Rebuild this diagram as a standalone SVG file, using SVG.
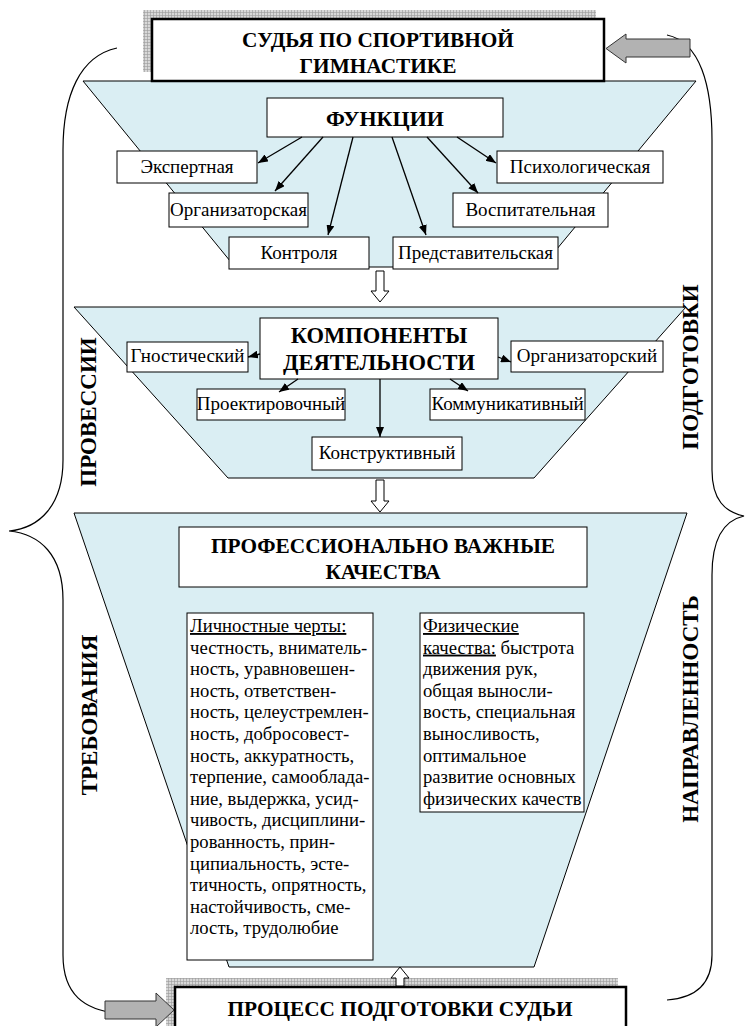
<svg xmlns="http://www.w3.org/2000/svg" width="748" height="1026" viewBox="0 0 748 1026">
<defs>
<pattern id="grid" width="3" height="3" patternUnits="userSpaceOnUse">
<rect width="3" height="3" fill="#d8d8d8"/>
<path d="M0,0.5H3M0.5,0V3" stroke="#9a9a9a" stroke-width="0.6"/>
</pattern>
<marker id="ah" markerWidth="10" markerHeight="8" refX="10" refY="4" orient="auto" markerUnits="userSpaceOnUse">
<path d="M0,0L10,4L0,8z" fill="#000"/>
</marker>
</defs>
<style>
text{font-family:"Liberation Serif","Times New Roman",serif;fill:#000}
.t{font-size:21.3px;font-weight:bold;text-anchor:middle}
.v{font-size:23px;font-weight:bold;text-anchor:middle}
.l{font-size:19px;text-anchor:middle}
.p{font-size:18.67px}
.box{fill:#fff;stroke:#000;stroke-width:1}
.bigbox{fill:#fff;stroke:#000;stroke-width:2.5}
.trap{fill:#daeef3;stroke:#000;stroke-width:1}
.con{stroke:#000;stroke-width:1.3;fill:none;marker-end:url(#ah)}
.hol{fill:#fff;stroke:#000;stroke-width:1}
.gray{fill:#b2b2b2;stroke:#333;stroke-width:1}
.brace{fill:none;stroke:#000;stroke-width:1.2}
</style>
<rect width="748" height="1026" fill="#fff"/>

<g id="braces">
<path class="brace" d="M117,48 C80,56 63,95 63,150 L63,460 C63,505 40,528 9,531 C40,534 63,555 63,600 L63,955 C63,995 85,1010 117,1013"/>
<path class="brace" d="M667,35 C700,42 712,85 712,140 L712,470 C712,500 725,512 744,516 C726,520 712,535 712,575 L712,955 C712,985 695,998 667,1000"/>
</g>

<g id="zone1">
<polygon class="trap" points="83,81 696,81 542,267 235,267"/>
</g>
<g id="zone2">
<polygon class="trap" points="74,307 686,307 534,478 228,478"/>
</g>
<g id="zone3">
<polygon class="trap" points="74,513 687,513 534,967 229,967"/>
</g>

<g id="judge">
<rect x="143" y="10" width="453" height="62" fill="url(#grid)"/>
<rect class="bigbox" x="152" y="19" width="452" height="62"/>
<text class="t" x="378" y="47">СУДЬЯ ПО СПОРТИВНОЙ</text>
<text class="t" x="378" y="73">ГИМНАСТИКЕ</text>
</g>

<g id="functions">
<rect class="box" x="267" y="98" width="236" height="39"/>
<text class="t" x="385" y="126" style="font-size:22px">ФУНКЦИИ</text>
</g>
<g id="f-expert"><rect class="box" x="117" y="151" width="140" height="32"/><text class="l" x="187" y="173">Экспертная</text></g>
<g id="f-psych"><rect class="box" x="497" y="151" width="166" height="32"/><text class="l" x="580" y="173">Психологическая</text></g>
<g id="f-org"><rect class="box" x="169" y="193" width="139" height="34"/><text class="l" x="238.5" y="216">Организаторская</text></g>
<g id="f-educ"><rect class="box" x="453" y="193" width="155" height="34"/><text class="l" x="530.5" y="216">Воспитательная</text></g>
<g id="f-control"><rect class="box" x="229" y="237" width="140" height="32"/><text class="l" x="299" y="259">Контроля</text></g>
<g id="f-repr"><rect class="box" x="393" y="237" width="165" height="32"/><text class="l" x="475.5" y="259">Представительская</text></g>

<g id="components">
<rect class="box" x="260" y="318" width="238" height="61"/>
<text class="t" x="379" y="343" style="font-size:22.5px">КОМПОНЕНТЫ</text>
<text class="t" x="379" y="370" style="font-size:22.5px">ДЕЯТЕЛЬНОСТИ</text>
</g>
<g id="c-gnost"><rect class="box" x="127" y="342" width="121" height="30"/><text class="l" x="187.5" y="362">Гностический</text></g>
<g id="c-org"><rect class="box" x="511" y="341" width="152" height="31"/><text class="l" x="587" y="362">Организаторский</text></g>
<g id="c-proj"><rect class="box" x="197" y="389" width="148" height="31"/><text class="l" x="271" y="410">Проектировочный</text></g>
<g id="c-comm"><rect class="box" x="430" y="389" width="155" height="31"/><text class="l" x="507.5" y="410">Коммуникативный</text></g>
<g id="c-constr"><rect class="box" x="312" y="437" width="150" height="33"/><text class="l" x="387" y="459">Конструктивный</text></g>

<g id="qualities">
<rect class="box" x="179" y="527" width="408" height="60"/>
<text class="t" x="383" y="553">ПРОФЕССИОНАЛЬНО ВАЖНЫЕ</text>
<text class="t" x="383" y="579">КАЧЕСТВА</text>
</g>

<g id="personal">
<rect class="box" x="187" y="613" width="186" height="347"/>
<text class="p" x="190">
<tspan x="190" y="632" text-decoration="underline">Личностные черты:</tspan>
<tspan x="190" y="653.6">честность, вниматель-</tspan>
<tspan x="190" y="675.2">ность, уравновешен-</tspan>
<tspan x="190" y="696.8">ность, ответствен-</tspan>
<tspan x="190" y="718.4">ность, целеустремлен-</tspan>
<tspan x="190" y="740">ность, добросовест-</tspan>
<tspan x="190" y="761.6">ность, аккуратность,</tspan>
<tspan x="190" y="783.2">терпение, самооблада-</tspan>
<tspan x="190" y="804.8">ние, выдержка, усид-</tspan>
<tspan x="190" y="826.4">чивость, дисциплини-</tspan>
<tspan x="190" y="848">рованность, прин-</tspan>
<tspan x="190" y="869.6">ципиальность, эсте-</tspan>
<tspan x="190" y="891.2">тичность, опрятность,</tspan>
<tspan x="190" y="912.8">настойчивость, сме-</tspan>
<tspan x="190" y="934.4">лость, трудолюбие</tspan>
</text>
</g>

<g id="physical">
<rect class="box" x="420" y="613" width="164" height="199"/>
<text class="p" x="423">
<tspan x="423" y="632" text-decoration="underline">Физические</tspan>
<tspan x="423" y="653.6" text-decoration="underline">качества:</tspan><tspan> быстрота</tspan>
<tspan x="423" y="675.2">движения рук,</tspan>
<tspan x="423" y="696.8">общая выносли-</tspan>
<tspan x="423" y="718.4">вость, специальная</tspan>
<tspan x="423" y="740">выносливость,</tspan>
<tspan x="423" y="761.6">оптимальное</tspan>
<tspan x="423" y="783.2">развитие основных</tspan>
<tspan x="423" y="804.8">физических качеств</tspan>
</text>
</g>

<g id="process">
<rect x="166" y="978" width="452" height="60" fill="url(#grid)"/>
<rect class="bigbox" x="175" y="987" width="451" height="60"/>
<text class="t" x="400" y="1016">ПРОЦЕСС ПОДГОТОВКИ СУДЬИ</text>
</g>

<g id="side-labels">
<text class="v" transform="translate(96,412) rotate(-90)">ПРОВЕССИИ</text>
<text class="v" transform="translate(97,715) rotate(-90)">ТРЕБОВАНИЯ</text>
<text class="v" transform="translate(698,367) rotate(-90)">ПОДГОТОВКИ</text>
<text class="v" transform="translate(698,709) rotate(-90)">НАПРАВЛЕННОСТЬ</text>
</g>

<g id="connectors">
<line class="con" x1="302" y1="137" x2="258" y2="163"/>
<line class="con" x1="323" y1="137" x2="275" y2="191"/>
<line class="con" x1="353" y1="137" x2="328" y2="235"/>
<line class="con" x1="392" y1="137" x2="426" y2="235"/>
<line class="con" x1="427" y1="137" x2="478" y2="193"/>
<line class="con" x1="457" y1="137" x2="496" y2="163"/>
<line class="con" x1="260" y1="354" x2="248" y2="357"/>
<line class="con" x1="498" y1="357" x2="511" y2="362"/>
<line class="con" x1="298" y1="379" x2="279" y2="392"/>
<line class="con" x1="450" y1="379" x2="468" y2="391"/>
<line class="con" x1="380" y1="379" x2="380" y2="437"/>
<path class="hol" d="M376,271H384V291H389L380,302L371,291H376Z"/>
<path class="hol" d="M376,480H384V501H389L380,512L371,501H376Z"/>
<path class="hol" d="M396,986V978H391L400,967L409,978H404V986Z"/>
<path class="gray" d="M690,39V57H626V63L606,48.5L626,34V39Z"/>
<path class="gray" d="M105,1001V1019H156V1027L174,1010L156,993V1001Z"/>
</g>
</svg>
